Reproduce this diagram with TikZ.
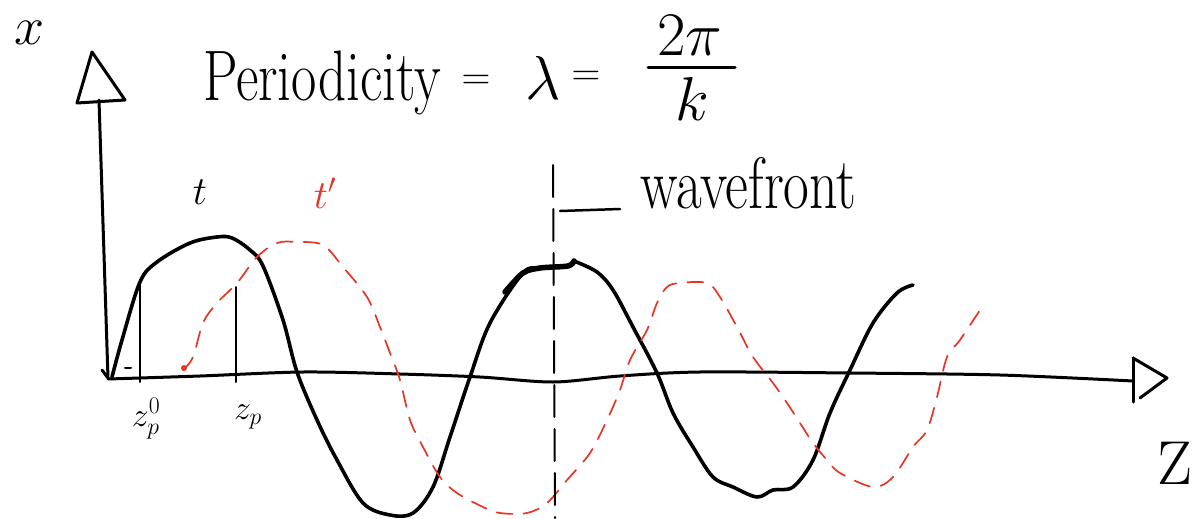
\RequirePackage{fix-cm}
\documentclass[tikz,border=0pt]{standalone}
\usepackage{amsmath}
\definecolor{penred}{RGB}{232,52,38}
\begin{document}
\begin{tikzpicture}[x=1pt,y=-1pt,
  axisline/.style={line width=3pt,line cap=round,line join=round},
  wave/.style={line width=3.6pt,line cap=round,line join=round},
  redwave/.style={penred,line width=1.7pt,line cap=round,dash pattern=on 16pt off 11pt},
  thin/.style={line width=2pt,line cap=round},
  lbl/.style={inner sep=0pt,outer sep=0pt},
  big/.style={lbl,font=\fontsize{55}{66}\selectfont},
  eqs/.style={lbl,font=\fontsize{40}{48}\selectfont},
  mid/.style={lbl,font=\fontsize{40}{48}\selectfont},
  small/.style={lbl,font=\fontsize{34}{40}\selectfont}]
\useasboundingbox (0,0) rectangle (1202,519);

% axes
\draw[axisline] (102,370) -- (108,378) -- (99,100);
\draw[axisline] (92,52) -- (77,103) -- (125,100) -- cycle;
\draw[axisline] plot[smooth] coordinates {(108,379) (200,376) (303,372) (400,374) (480,377) (553,382) (620,376) (700,372) (850,373) (1000,375) (1133,381)};
\draw[axisline] (1133,358) -- (1133,402);
\draw[axisline] (1133,358) -- (1167,378) -- (1140,398);

% ticks
\draw[thin] (140,280) -- (140,382);
\draw[thin] (236,287) -- (236,382);
\draw[thin] (125,368) -- (131,368);

% black wave t
\draw[wave] plot[smooth,tension=0.55] coordinates {(112,377) (122,340) (140,282) (157,262) (190,243) (217,237) (232,238) (250,250) (263,266) (283,320) (297,372) (317,420) (337,460) (363,503) (390,515) (413,513) (433,487) (450,437) (470,377) (490,323) (523,273) (540,268) (568,266)};
\draw[line width=5.5pt,line cap=round] plot[smooth] coordinates {(505,292) (523,273) (540,268) (568,266) (574,261)};
\draw[wave] plot[smooth,tension=0.55] coordinates {(574,261) (597,272) (613,290) (633,327) (657,373) (673,413) (693,447) (713,477) (733,487) (757,497) (773,490) (793,487) (813,460) (830,413) (850,370) (873,323) (897,293) (913,285)};

% red dashed wave t'
\draw[redwave] plot[smooth,tension=0.55] coordinates {(183,370) (193,357) (203,323) (217,303) (237,283) (257,257) (277,243) (297,242) (323,245) (343,267) (367,297) (380,327) (390,353) (400,380) (410,420) (423,447) (440,477) (457,493) (483,507) (500,513) (527,513) (547,503) (567,480) (590,453) (607,420) (620,390) (630,360) (647,330) (657,303) (667,287) (680,283) (707,283) (720,297) (737,327) (753,357) (773,383) (787,403) (800,423) (813,443) (827,460) (840,473) (873,487) (893,477) (913,447) (927,430) (937,397) (947,357) (960,340) (980,310)};
\fill[penred] (184,368) circle (3pt);

% wavefront
\coordinate (wtop) at (553,165);
\coordinate (wbot) at (555,518);
\draw[thin,dash pattern=on 32pt off 12pt] (wtop) -- (wbot);
\node[lbl,font=\fontsize{56}{66}\selectfont,anchor=base west] (wf) at (640,208) {\scalebox{1}[1.3]{wavefront}};
\coordinate (wfl) at (560,211);
\coordinate (wfr) at (620,209);
\draw[line width=2.5pt,line cap=round] (wfl) -- (wfr);

% title
\node[big,anchor=base west] (per) at (203,100) {\scalebox{1}[1.3]{Periodicity}};
\node[eqs] (eq1) at (476,82) {$=$};
\node[lbl,font=\fontsize{62}{72}\selectfont] (lam) at (543,78) {$\lambda$};
\node[eqs] (eq2) at (586,78) {$=$};
\node[lbl,font=\fontsize{62}{72}\selectfont] (num) at (690,36) {$2\pi$};
\node[lbl,font=\fontsize{62}{72}\selectfont] (den) at (692,99) {$k$};
\draw[line width=3pt,line cap=round] (648,68) -- (735,68);

% labels
\node[lbl,font=\fontsize{54}{64}\selectfont] (xl) at (30,33) {$x$};
\node[mid] (tl) at (200,192) {$t$};
\node[mid,text=penred] (tpl) at (325,193) {$t'$};
\node[small] (zp0) at (146,419) {$z_p^0$};
\node[small] (zp) at (248,417) {$z_p$};
\node[lbl,font=\fontsize{62}{70}\selectfont] (zl) at (1175,463) {Z};
\end{tikzpicture}
\end{document}
